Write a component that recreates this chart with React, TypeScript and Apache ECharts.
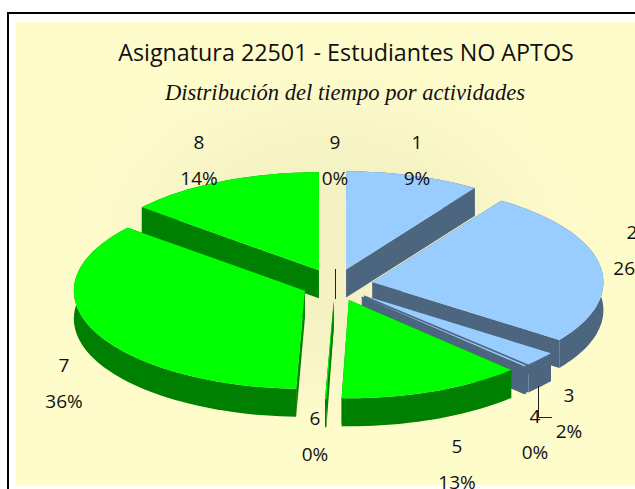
import React, { useEffect, useRef } from "react";
import * as echarts from "echarts";

const titleText = "Asignatura 22501 - Estudiantes NO APTOS";
const subtitleText = "Distribución del tiempo por actividades";
const categories = ["1", "2", "3", "4", "5", "6", "7", "8", "9"];
const values = [9.4, 25.6, 2.4, 0.2, 12.9, 0.1, 35.5, 13.9, 0];
const paintOrder = [7, 8, 0, 1, 6, 2, 3, 5, 4];

const TOP_BLUE = "#99CCFF";
const WALL_BLUE = "#4D6680";
const TOP_GREEN = "#00FF00";
const WALL_GREEN = "#008000";
const colorGroup = [0, 0, 0, 0, 1, 1, 1, 1, 1];
const explode = [38, 38, 38, 38, 38, 38, 33, 38, 38];
const CX = 335, CY = 285, R = 231, K = 0.425, DEPTH = 28;

const labelLayout: [number, number][] = [
  [417, 142], [632, 232], [569, 395], [535, 416], [457, 446],
  [315, 418], [64, 365], [199, 142], [335, 142],
];
const LABEL_GAP = 36;

const FONT = '"Open Sans", sans-serif';
const rad = (d: number) => (d * Math.PI) / 180;

function sliceAngles(i: number) {
  const total = values.reduce((a, b) => a + b, 0);
  const before = values.slice(0, i).reduce((a, b) => a + b, 0);
  return [(before / total) * 360, ((before + values[i]) / total) * 360];
}

function renderSlice(_: any, api: any) {
  const i = api.value(0);
  if (api.value(1) <= 0) return { type: "group", children: [] };
  const [a0, a1] = sliceAngles(i);
  const mid = (a0 + a1) / 2;
  const vx = CX + explode[i] * Math.sin(rad(mid));
  const vy = CY - K * explode[i] * Math.cos(rad(mid));
  const pt = (a: number): number[] => [vx + R * Math.sin(rad(a)), vy - K * R * Math.cos(rad(a))];
  const arc: number[][] = [];
  const n = Math.max(1, Math.ceil((a1 - a0) / 2));
  for (let s = 0; s <= n; s++) arc.push(pt(a0 + ((a1 - a0) * s) / n));
  const down = (p: number[]) => [p[0], p[1] + DEPTH];
  const wall = colorGroup[i] ? WALL_GREEN : WALL_BLUE;
  const top = colorGroup[i] ? TOP_GREEN : TOP_BLUE;
  const v = [vx, vy];
  const poly = (points: number[][], fill: string) => ({
    type: "polygon",
    shape: { points },
    style: { fill, lineWidth: 0 },
  });
  return {
    type: "group",
    children: [
      poly([v, arc[0], down(arc[0]), down(v)], wall),
      poly([v, arc[arc.length - 1], down(arc[arc.length - 1]), down(v)], wall),
      poly([...arc, ...arc.slice().reverse().map(down)], wall),
      poly([v, ...arc], top),
    ],
  };
}

function renderLabel(_: any, api: any) {
  const i = api.value(0);
  const [x, y] = labelLayout[i];
  const text = (t: string, ty: number) => ({
    type: "text",
    style: { x, y: ty, text: t, fill: "#111", font: `19px ${FONT}`, textAlign: "center", textVerticalAlign: "middle" },
  });
  return {
    type: "group",
    children: [text(categories[i], y), text(`${Math.round(api.value(1))}%`, y + LABEL_GAP)],
  };
}

export default function App() {
  const ref = useRef<HTMLDivElement>(null);
  useEffect(() => {
    const chart = echarts.init(ref.current!, undefined, { renderer: "svg" });
    chart.setOption({
      animation: false,
      backgroundColor: "#FFFFFF",
      graphic: [
        { type: "rect", z: -10, shape: { x: 7, y: 12, width: 640, height: 490 }, style: { fill: "#000000" } },
        { type: "rect", z: -9, shape: { x: 9, y: 14, width: 640, height: 490 }, style: { fill: "#FFFFFF" } },
        {
          type: "rect",
          z: -8,
          scaleX: 1.4,
          shape: { x: 11.43, y: 22, width: 450, height: 463 },
          style: {
            fill: new echarts.graphic.RadialGradient(0.5, 0.48, 0.4, [
              { offset: 0, color: "#F3F0C2" },
              { offset: 0.5, color: "#F5F2C4" },
              { offset: 1, color: "#FFFCCC" },
            ]),
          },
        },
      ],
      title: [
        {
          text: titleText, left: 341, top: 35, textAlign: "center",
          textStyle: { fontFamily: FONT, fontSize: 23.3, fontWeight: "normal", color: "#111" },
        },
        {
          text: subtitleText, left: 340, top: 76, textAlign: "center",
          textStyle: { fontFamily: '"Liberation Serif", serif', fontStyle: "italic", fontSize: 22.6, fontWeight: "normal", color: "#111" },
        },
      ],
      series: [
        {
          type: "custom", coordinateSystem: "none", silent: true, clip: false,
          renderItem: renderSlice,
          data: paintOrder.map((i) => [i, values[i]]),
        },
        {
          type: "custom", coordinateSystem: "none", silent: true, clip: false,
          renderItem: renderLabel,
          data: categories.map((_, i) => [i, values[i]]),
        },
        {
          type: "custom", coordinateSystem: "none", silent: true, clip: false,
          renderItem: (_: any, api: any) => ({
            type: "polyline",
            shape: { points: [[api.value(0), api.value(1)], [api.value(2), api.value(3)], [api.value(4), api.value(5)]] },
            style: { fill: "none", stroke: "#222", lineWidth: 1 },
          }),
          data: [
            [335.5, 269, 335.5, 284, 335.5, 299],
            [538.5, 386, 538.5, 417.5, 552, 417.5],
          ],
        },
      ],
    });
    return () => chart.dispose();
  }, []);
  return <div ref={ref} style={{ position: "fixed", left: 0, top: 0, width: 635, height: 489 }} />;
}
